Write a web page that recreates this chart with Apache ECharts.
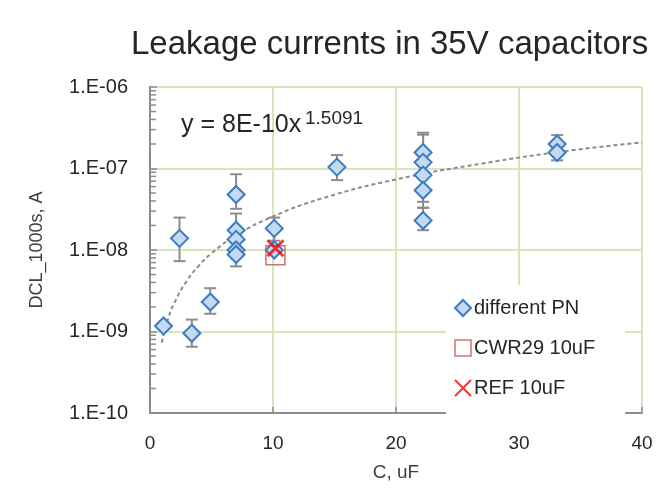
<!DOCTYPE html>
<html>
<head>
<meta charset="utf-8">
<script src="https://cdn.jsdelivr.net/npm/echarts@6/dist/echarts.min.js"></script>
<style>
  html, body { margin: 0; padding: 0; background: #fff; }
  #chart { width: 659px; height: 501px; }
</style>
</head>
<body>
<div id="chart"></div>
<script>
// different PN points (C in uF, DCL in A)
var pnX = [1.1, 2.4, 3.4, 4.9, 7.0, 7.0, 7.0, 7.0, 7.0, 10.1, 10.1, 15.2, 22.2, 22.2, 22.2, 22.2, 22.2, 33.1, 33.1];
var pnY = [1.17e-9, 1.39e-8, 9.5e-10, 2.3e-9, 4.8e-8, 1.75e-8, 1.35e-8, 1.0e-8, 8.8e-9, 1.84e-8, 1.0e-8, 1.04e-7,
           1.57e-7, 1.19e-7, 8.3e-8, 5.4e-8, 2.3e-8, 2.0e-7, 1.57e-7];

// error bars: x, low, high
var errX    = [2.4, 3.4, 4.9, 7.0, 7.0, 10.1, 15.2, 22.2, 22.2, 22.2, 33.1];
var errLow  = [7.3e-9, 6.5e-10, 1.65e-9, 3.2e-8, 6.3e-9, 1.3e-8, 7.2e-8, 3.9e-8, 3.3e-8, 1.75e-8, 1.26e-7];
var errHigh = [2.5e-8, 1.4e-9, 3.4e-9, 8.5e-8, 2.8e-8, 2.5e-8, 1.46e-7, 2.75e-7, 2.6e-7, 3.3e-8, 2.57e-7];

// CWR29 10uF and REF 10uF
var cwrPoint = [10.2, 8.6e-9];
var refPoint = [10.2, 1.05e-8];

// power trendline (y = 8E-10x^1.5091)
var trendX = [0.95, 1.5, 2, 3, 4, 5, 7, 10, 14, 20, 27, 34, 40];
var trendY = [7.3e-10, 1.48e-9, 2.28e-9, 4.2e-9, 6.5e-9, 9.1e-9, 1.51e-8, 2.58e-8, 4.3e-8, 7.35e-8, 1.15e-7, 1.65e-7, 2.09e-7];

// y ticks
var yTickLabels = ['1.E-10', '1.E-09', '1.E-08', '1.E-07', '1.E-06'];
var minorTicks = [];
[1e-10, 1e-9, 1e-8, 1e-7].forEach(function (d) {
    for (var k = 2; k <= 9; k++) minorTicks.push([0, k * d]);
});

var FONT = 'Liberation Sans, Arial, sans-serif';
var chart = echarts.init(document.getElementById('chart'));

var pnData = pnX.map(function (x, i) { return [x, pnY[i]]; });
var errData = errX.map(function (x, i) { return [x, errLow[i], errHigh[i]]; });
var trendData = trendX.map(function (x, i) { return [x, trendY[i]]; });

var xMark = 'path://M0,0L10,10M10,0L0,10';

chart.setOption({
    backgroundColor: '#fff',
    animation: false,
    textStyle: { fontFamily: FONT },
    title: {
        text: 'Leakage currents in 35V capacitors',
        left: 126, top: 23,
        textStyle: { fontSize: 33, fontWeight: 'normal', color: '#262626', fontFamily: FONT }
    },
    grid: {
        left: 150, right: 17, top: 87, bottom: 88,
        show: true, borderColor: '#a6a6a6', borderWidth: 1, backgroundColor: 'transparent'
    },
    legend: {
        orient: 'vertical',
        left: 446, top: 285,
        padding: [13, 30, 20, 8],
        itemGap: 20,
        itemWidth: 16, itemHeight: 16,
        backgroundColor: '#fff',
        textStyle: { fontSize: 20, color: '#262626', fontFamily: FONT, padding: [0, 0, 0, -2] },
        data: [
            { name: 'different PN', icon: 'diamond', itemStyle: { color: '#c5d9f1', borderColor: '#3b7dc4', borderWidth: 2 } },
            { name: 'CWR29 10uF', icon: 'rect', itemStyle: { color: 'rgba(0,0,0,0)', borderColor: '#c0504d', borderWidth: 1.5 } },
            { name: 'REF 10uF', icon: xMark, itemStyle: { color: 'rgba(0,0,0,0)', borderColor: '#ff0000', borderWidth: 2 } }
        ]
    },
    xAxis: {
        type: 'value', min: 0, max: 40, interval: 10,
        name: 'C, uF', nameLocation: 'middle', nameGap: 50,
        nameTextStyle: { fontSize: 19, color: '#404040' },
        axisLine: { lineStyle: { color: '#8c8c8c', width: 2 } },
        axisTick: { inside: true, length: 6, lineStyle: { color: '#8c8c8c', width: 1.5 } },
        axisLabel: { fontSize: 19, color: '#262626', margin: 21 },
        splitLine: { lineStyle: { color: '#d7e4bd', width: 2 } }
    },
    yAxis: {
        type: 'log', logBase: 10, min: 1e-10, max: 1e-6,
        name: 'DCL_1000s, A', nameLocation: 'middle', nameGap: 104,
        nameTextStyle: { fontSize: 18, color: '#404040' },
        axisLine: { show: true, lineStyle: { color: '#8c8c8c', width: 2 } },
        axisTick: { inside: true, length: 7, lineStyle: { color: '#8c8c8c', width: 1.5 } },
        axisLabel: {
            fontSize: 20, color: '#262626', margin: 22, padding: [5, 0, 0, 0],
            formatter: function (v) {
                var e = Math.round(Math.log10(v));
                return yTickLabels[e + 10];
            }
        },
        splitLine: { lineStyle: { color: '#d7e4bd', width: 2 } }
    },
    graphic: [
        { type: 'text', left: 181, top: 113, z: 10,
          style: { text: 'y = 8E-10x', fontSize: 25, fill: '#262626', fontFamily: FONT } },
        { type: 'text', left: 305, top: 109, z: 10,
          style: { text: '1.5091', fontSize: 19, fill: '#262626', fontFamily: FONT } }
    ],
    series: [
        {
            name: 'minorTicks', type: 'custom', silent: true, z: 3,
            data: minorTicks,
            renderItem: function (params, api) {
                var p = api.coord([0, api.value(1)]);
                return { type: 'line', shape: { x1: p[0], y1: p[1], x2: p[0] + 6, y2: p[1] },
                         style: { stroke: '#8c8c8c', lineWidth: 1.5 } };
            }
        },
        {
            name: 'trend', type: 'line', data: trendData, smooth: true, symbol: 'none', z: 2,
            lineStyle: { color: '#8c8c8c', width: 2, type: [4, 3] }
        },
        {
            name: 'errors', type: 'custom', z: 3,
            data: errData,
            renderItem: function (params, api) {
                var x = api.value(0);
                var lo = api.coord([x, api.value(1)]);
                var hi = api.coord([x, api.value(2)]);
                var w = 6;
                var st = { stroke: '#8c8c8c', lineWidth: 2 };
                return { type: 'group', children: [
                    { type: 'line', shape: { x1: lo[0], y1: lo[1], x2: hi[0], y2: hi[1] }, style: st },
                    { type: 'line', shape: { x1: lo[0] - w, y1: lo[1], x2: lo[0] + w, y2: lo[1] }, style: st },
                    { type: 'line', shape: { x1: hi[0] - w, y1: hi[1], x2: hi[0] + w, y2: hi[1] }, style: st }
                ]};
            }
        },
        {
            name: 'different PN', type: 'scatter', data: pnData, z: 4,
            symbol: 'diamond', symbolSize: 17,
            itemStyle: { color: '#c5d9f1', borderColor: '#3b7dc4', borderWidth: 2, opacity: 1 }
        },
        {
            name: 'CWR29 10uF', type: 'scatter', data: [cwrPoint], z: 5,
            symbol: 'rect', symbolSize: 19,
            itemStyle: { color: 'rgba(0,0,0,0)', borderColor: '#c0504d', borderWidth: 1.5 }
        },
        {
            name: 'REF 10uF', type: 'scatter', data: [refPoint], z: 6,
            symbol: xMark, symbolSize: 16,
            itemStyle: { color: 'rgba(0,0,0,0)', borderColor: '#ff0000', borderWidth: 3 }
        }
    ]
});
</script>
</body>
</html>
